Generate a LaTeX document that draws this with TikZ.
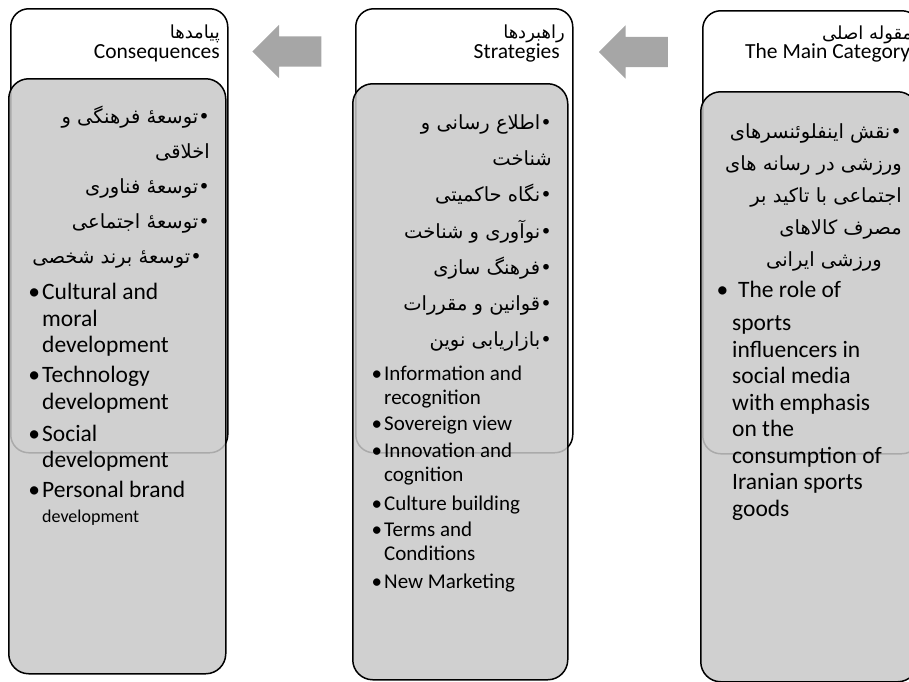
\documentclass[tikz,border=0pt]{standalone}
\usepackage{fontspec}
\setmainfont{Carlito}
\newfontfamily\farsi[Script=Arabic]{DejaVu Sans}
\TeXXeTstate=1
\usepackage{tikz}
\usetikzlibrary{shapes.arrows, positioning}
\definecolor{boxgray}{HTML}{C8C8C8}
\definecolor{arrowgray}{HTML}{A6A6A6}
\tikzstyle{headbox} = [rectangle, rounded corners=18pt, minimum width=217pt, minimum height=444pt,
  anchor=north west, inner sep=0pt, draw=black, fill=white, line width=1.5pt]
\tikzstyle{bodybox} = [rectangle, rounded corners=20pt, minimum width=217pt, minimum height=595pt,
  anchor=north west, inner sep=0pt, draw=black, fill=boxgray, fill opacity=0.85, draw opacity=1, line width=1.5pt]
\tikzstyle{fahead} = [font=\farsi\fontsize{18}{20}\selectfont, inner sep=0pt, anchor=base east]
\tikzstyle{enhead} = [font=\fontsize{21.5}{24}\selectfont, inner sep=0pt, anchor=base east]
\tikzstyle{falist} = [font=\farsi\fontsize{19.5}{35}\selectfont, align=right, inner sep=0pt, anchor=north east]
\tikzstyle{enlist} = [font=\fontsize{23.5}{26.5}\selectfont, align=left, inner sep=0pt, anchor=north west]
\tikzstyle{flowarrow} = [single arrow, shape border rotate=180, fill=arrowgray, inner sep=0pt,
  text height=30pt, text depth=0pt, minimum height=69pt, minimum width=53pt, single arrow head extend=11.5pt]
\newcommand{\fa}[1]{\beginR #1\endR}
\newcommand{\bul}{\llap{\textbullet\hspace{2pt}}}

\begin{document}
\begin{tikzpicture}[x=1pt, y=-1pt]
  \useasboundingbox (0,0) rectangle (909,681);
  \clip (0,0) rectangle (909,681);

  % header boxes
  \node (conshead)  [headbox] at (10,8) {};
  \node (strathead) [headbox] at (355,8) {};
  \node (mainhead)  [headbox, minimum height=443pt] at (702,10) {};

  % body boxes
  \node (consbody)  [bodybox] at (8,78) {};
  \node (stratbody) [bodybox, minimum width=215pt, minimum height=596pt] at (352,83) {};
  \node (mainbody)  [bodybox, minimum height=590pt] at (700,91) {};

  % titles
  \node (consfat)  [fahead] at (220,38) {\fa{پیامدها}};
  \node (consent)  [enhead] at (220,58) {Consequences};
  \node (stratfat) [fahead] at (565,38) {\fa{راهبردها}};
  \node (stratent) [enhead] at (560,58) {Strategies};
  \node (mainfat)  [fahead, anchor=base west] at (822,39) {\fa{مقوله اصلی}};
  \node (mainent)  [enhead, anchor=base west] at (745,58) {The Main Category};

  % persian items
  \node (consfa) [falist] at (210,105.5) {\fa{•توسعهٔ فرهنگی و}\\
    \fa{اخلاقی}\hspace*{9pt}\\
    \fa{•توسعهٔ فناوری}\\
    \fa{•توسعهٔ اجتماعی}\\
    \fa{•توسعهٔ برند شخصی}\hspace*{8pt}};
  \node (stratfa) [falist, font=\farsi\fontsize{19.5}{36.2}\selectfont] at (552,114.5) {\fa{•اطلاع رسانی و}\\
    \fa{شناخت}\hspace*{9pt}\\
    \fa{•نگاه حاکمیتی}\\
    \fa{•نوآوری و شناخت}\\
    \fa{•فرهنگ سازی}\\
    \fa{•قوانین و مقررات}\\
    \fa{•بازاریابی نوین}};
  \node (mainfa) [falist, font=\farsi\fontsize{19.5}{32}\selectfont] at (902,123.5) {\fa{•نقش اینفلوئنسرهای}\\
    \fa{ورزشی در رسانه های}\\
    \fa{اجتماعی با تاکید بر}\\
    \fa{مصرف کالاهای}\hspace*{12pt}\\
    \fa{ورزشی ایرانی}\hspace*{20pt}};

  % english items
  \node (consen) [enlist] at (42,283) {\bul Cultural and\\ moral\\ development\\[3.5pt]
    \bul Technology\\ development\\[5.5pt]
    \bul Social\\ development\\[3.5pt]
    \bul Personal brand\\[-1.5pt]
    {\fontsize{18}{20}\selectfont development}};
  \node (straten) [enlist, font=\fontsize{21}{24}\selectfont] at (384,366) {\bul Information and\\ recognition\\[2pt]
    \bul Sovereign view\\[3pt]
    \bul Innovation and\\ cognition\\[5pt]
    \bul Culture building\\[2pt]
    \bul Terms and\\ Conditions\\[4pt]
    \bul New Marketing};
  \node (mainen) [enlist] at (732,281) {\hspace*{6pt}\llap{\textbullet\hspace{10pt}}The role of\\[6.5pt]
    sports\\ influencers in\\ social media\\ with emphasis\\ on the\\ consumption of\\ Iranian sports\\ goods};

  % arrows
  \node (arrowa) [flowarrow] at (294.5,51.5) {};
  \node (arrowb) [flowarrow] at (641,52) {};
\end{tikzpicture}
\end{document}
